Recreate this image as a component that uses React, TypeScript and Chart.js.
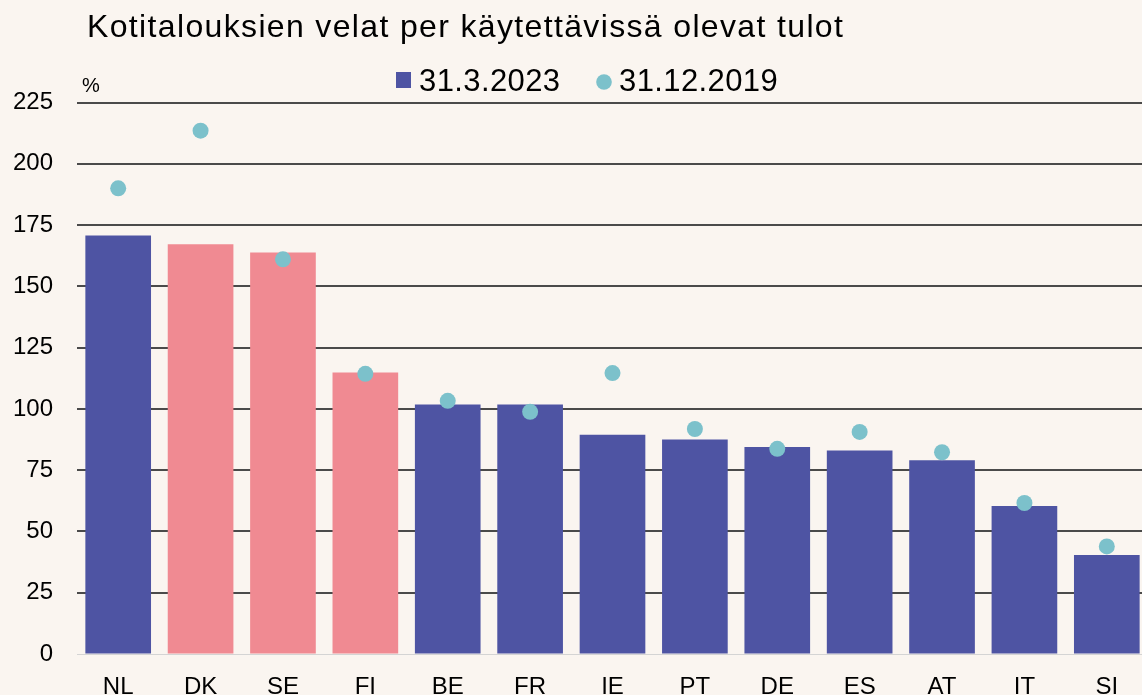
import React, { useEffect, useRef } from "react";
import { Chart, registerables } from "chart.js";

Chart.register(...registerables);

const titleText = "Kotitalouksien velat per käytettävissä olevat tulot";
const unitLabel = "%";
const seriesNames = ["31.3.2023", "31.12.2019"];
const categories = ["NL", "DK", "SE", "FI", "BE", "FR", "IE", "PT", "DE", "ES", "AT", "IT", "SI"];
const debt2023 = [170.7, 167.2, 163.8, 114.8, 101.8, 101.8, 89.5, 87.5, 84.5, 83.0, 79.0, 60.4, 40.4];
const debt2019 = [190.0, 213.5, 161.0, 114.3, 103.3, 98.8, 114.6, 91.8, 83.7, 90.6, 82.3, 61.6, 43.9];
const highlighted = ["DK", "SE", "FI"];
const yTicks = [0, 25, 50, 75, 100, 125, 150, 175, 200, 225];

const BG = "#FAF5F0";
const BLUE = "#4E54A3";
const PINK = "#F08A92";
const TEAL = "#7CC1CB";
const FONT = "'Liberation Sans', Arial, sans-serif";
const CANVAS_W = 1148;

export default function App() {
  const ref = useRef<HTMLCanvasElement | null>(null);

  useEffect(() => {
    if (!ref.current) return;
    const decor = {
      id: "decor",
      beforeDraw(chart: any) {
        const c = chart.ctx;
        c.save();
        c.fillStyle = BG;
        c.fillRect(0, 0, chart.width, chart.height);
        c.restore();
      },
      afterDraw(chart: any) {
        const c = chart.ctx;
        c.save();
        c.fillStyle = "#000";
        c.textBaseline = "alphabetic";
        c.textAlign = "left";
        c.font = `32px ${FONT}`;
        (c as any).letterSpacing = "1.35px";
        c.fillText(titleText, 87, 37);
        (c as any).letterSpacing = "0px";
        c.font = `20px ${FONT}`;
        c.fillText(unitLabel, 82, 92);
        // legend
        c.fillStyle = BLUE;
        c.fillRect(396, 72, 15, 16);
        c.fillStyle = "#000";
        c.font = `31px ${FONT}`;
        (c as any).letterSpacing = "0.4px";
        c.fillText(seriesNames[0], 419, 91);
        c.fillStyle = TEAL;
        c.beginPath();
        c.arc(604, 82, 7.8, 0, Math.PI * 2);
        c.fill();
        c.fillStyle = "#000";
        c.fillText(seriesNames[1], 619, 91);
        c.restore();
      },
    };

    const chart = new Chart(ref.current, {
      type: "bar",
      data: {
        labels: categories,
        datasets: [
          {
            type: "line",
            label: seriesNames[1],
            data: debt2019,
            showLine: false,
            pointRadius: 8,
            pointHoverRadius: 8,
            pointBackgroundColor: TEAL,
            pointBorderColor: TEAL,
            pointBorderWidth: 0,
            order: 1,
          } as any,
          {
            type: "bar",
            label: seriesNames[0],
            data: debt2023,
            backgroundColor: categories.map((c) => (highlighted.includes(c) ? PINK : BLUE)),
            borderWidth: 0,
            categoryPercentage: 0.797,
            barPercentage: 1,
            order: 2,
          },
        ],
      },
      options: {
        animation: false,
        responsive: false,
        maintainAspectRatio: false,
        layout: { autoPadding: false, padding: { top: 102.5, left: 0, right: 0, bottom: 0 } },
        plugins: {
          legend: { display: false },
          title: { display: false },
          tooltip: { enabled: false },
        },
        scales: {
          x: {
            offset: true,
            grid: { display: false, drawTicks: false },
            border: { display: true, color: "#D4D4D4", width: 1 },
            ticks: {
              color: "#000",
              font: { family: FONT, size: 24 },
              padding: 19,
              maxRotation: 0,
              autoSkip: false,
            },
            afterFit(scale: any) {
              scale.height = 41;
              scale.paddingLeft = 0;
              scale.paddingRight = 0;
            },
          },
          y: {
            min: 0,
            max: 225,
            afterBuildTicks(scale: any) {
              scale.ticks = yTicks.map((v) => ({ value: v }));
            },
            grid: {
              drawTicks: false,
              color: (ctx: any) => (ctx.tick && ctx.tick.value === 0 ? "#D4D4D4" : "#4A4A4A"),
              lineWidth: (ctx: any) => (ctx.tick && ctx.tick.value === 0 ? 1 : 2),
            },
            border: { display: false },
            ticks: {
              color: "#000",
              font: { family: FONT, size: 24 },
              padding: 24,
            },
            afterFit(scale: any) {
              scale.width = 77;
            },
          },
        },
      },
      plugins: [decor],
    });
    return () => chart.destroy();
  }, []);

  return (
    <div style={{ position: "fixed", left: 0, top: 0, width: 1142, height: 695, overflow: "hidden", background: BG }}>
      <canvas ref={ref} width={CANVAS_W} height={695} style={{ display: "block", width: CANVAS_W, height: 695 }} />
    </div>
  );
}
